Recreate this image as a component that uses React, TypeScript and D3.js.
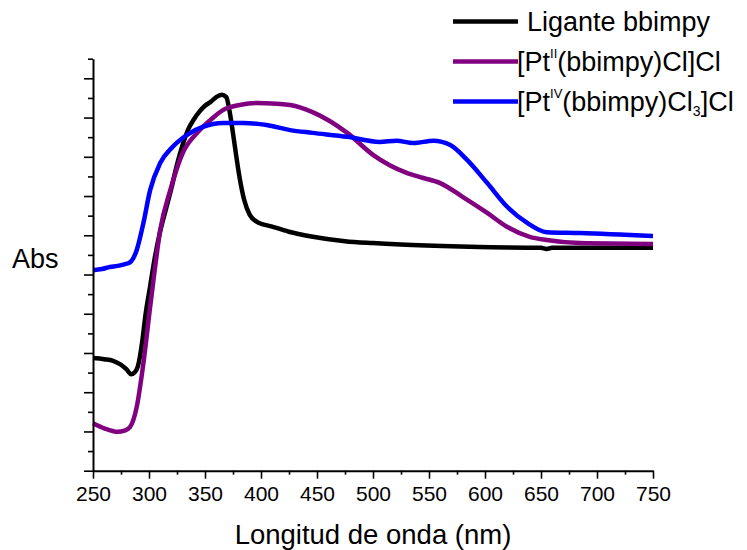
import React, { useEffect, useRef } from 'react';
import * as d3 from 'd3';

// Ligante bbimpy
const ligandWl = [250, 260, 268, 275, 280, 284, 287, 290, 294, 297, 301, 305, 310, 315, 320, 325, 330, 335, 340, 345, 350, 355, 360, 365, 369, 372, 375, 378, 381, 385, 390, 396, 410, 425, 445, 475, 500, 535, 595, 650, 655, 660, 750];
const ligandAbs = [0.287, 0.284, 0.28, 0.27, 0.258, 0.246, 0.25, 0.265, 0.33, 0.4, 0.47, 0.54, 0.61, 0.665, 0.72, 0.78, 0.83, 0.87, 0.895, 0.915, 0.93, 0.94, 0.952, 0.958, 0.952, 0.915, 0.86, 0.8, 0.745, 0.69, 0.652, 0.635, 0.622, 0.609, 0.597, 0.585, 0.58, 0.575, 0.57, 0.568, 0.565, 0.568, 0.568];

// [Pt(II)(bbimpy)Cl]Cl
const ptIIWl = [250, 260, 272, 278, 283, 289, 295, 301, 304, 310, 319, 330, 343, 355, 366, 381, 396, 414, 426, 446, 477, 500, 530, 545, 560, 580, 602, 620, 640, 655, 685, 750];
const ptIIAbs = [0.121, 0.108, 0.099, 0.102, 0.111, 0.162, 0.274, 0.417, 0.486, 0.613, 0.715, 0.809, 0.861, 0.894, 0.919, 0.932, 0.937, 0.935, 0.932, 0.914, 0.861, 0.805, 0.759, 0.746, 0.733, 0.698, 0.657, 0.621, 0.596, 0.588, 0.58, 0.578];

// [Pt(IV)(bbimpy)Cl3]Cl
const ptIVWl = [250, 258, 265, 272, 278, 283, 289, 295, 301, 310, 321, 337, 348, 366, 384, 405, 426, 446, 477, 506, 521, 536, 554, 569, 584, 602, 620, 638, 655, 685, 750];
const ptIVAbs = [0.511, 0.514, 0.519, 0.522, 0.526, 0.531, 0.562, 0.631, 0.715, 0.784, 0.825, 0.861, 0.876, 0.886, 0.886, 0.881, 0.868, 0.861, 0.851, 0.838, 0.841, 0.835, 0.841, 0.83, 0.792, 0.733, 0.672, 0.631, 0.608, 0.606, 0.598];

const xMajor = [250, 300, 350, 400, 450, 500, 550, 600, 650, 700, 750];
const xMinor = [275, 325, 375, 425, 475, 525, 575, 625, 675, 725];
const yMajor = [0, 0.1, 0.2, 0.3, 0.4, 0.5, 0.6, 0.7, 0.8, 0.9, 1.0];
const yMinor = [0.05, 0.15, 0.25, 0.35, 0.45, 0.55, 0.65, 0.75, 0.85, 0.95, 1.05];

const series = [
  { name: 'ligand', wl: ligandWl, abs: ligandAbs, color: '#000000' },
  { name: 'ptII', wl: ptIIWl, abs: ptIIAbs, color: '#800080' },
  { name: 'ptIV', wl: ptIVWl, abs: ptIVAbs, color: '#0000ff' },
];

const FONT = '"Liberation Sans", Arial, sans-serif';

const App = () => {
  const svgRef = useRef<SVGSVGElement>(null);

  useEffect(() => {
    const svg = d3.select(svgRef.current);

    const x = d3.scaleLinear().domain([250, 750]).range([93, 653]);
    const y = d3.scaleLinear().domain([0, 1.05]).range([470.7, 58.7]);

    // axes, ticks pointing out
    const xAxis = d3.axisBottom(x).tickValues(xMajor).tickSize(8).tickSizeOuter(0).tickPadding(7);
    const xMinorAxis = d3.axisBottom(x).tickValues(xMinor).tickSize(4).tickFormat(() => '');
    const yAxis = d3.axisLeft(y).tickValues(yMajor).tickSize(9).tickSizeOuter(0).tickFormat(() => '');
    const yMinorAxis = d3.axisLeft(y).tickValues(yMinor).tickSize(5).tickFormat(() => '');

    const gx = svg.select('.x-axis').attr('transform', `translate(0, ${y(0)})`).call(xAxis as any);
    svg.select('.x-minor').attr('transform', `translate(0, ${y(0)})`).call(xMinorAxis as any);
    svg.select('.y-axis').attr('transform', `translate(${x(250)}, 0)`).call(yAxis as any);
    svg.select('.y-minor').attr('transform', `translate(${x(250)}, 0)`).call(yMinorAxis as any);

    svg.selectAll('.x-minor .domain, .y-minor .domain').remove();
    svg.selectAll('.domain').attr('stroke-width', 2).attr('stroke', '#000');
    svg.selectAll('.tick line').attr('stroke-width', 1.6).attr('stroke', '#000');

    gx.selectAll('.tick text')
      .attr('font-family', FONT)
      .attr('font-size', 21)
      .attr('fill', '#000')
      .attr('dy', '0.72em');

    // curves
    const line = d3.line<[number, number]>()
      .x(d => x(d[0]))
      .y(d => y(d[1]))
      .curve(d3.curveMonotoneX);

    svg.select('.plot')
      .selectAll('path')
      .data(series)
      .join('path')
      .attr('d', s => line(s.wl.map((w, i) => [w, s.abs[i]] as [number, number])))
      .attr('fill', 'none')
      .attr('stroke', s => s.color)
      .attr('stroke-width', 4.5)
      .attr('stroke-linejoin', 'round');
  }, []);

  return (
    <svg ref={svgRef} width={747} height={550} style={{ position: 'absolute', left: 0, top: 0, background: '#fff' }}>
      <g className="plot" />
      <g className="x-minor" />
      <g className="y-minor" />
      <g className="x-axis" />
      <g className="y-axis" />

      <text x={12} y={268} fontFamily={FONT} fontSize={27} fill="#000">Abs</text>
      <text x={373} y={544} textAnchor="middle" fontFamily={FONT} fontSize={27.5} fill="#000">Longitud de onda (nm)</text>

      <g fontFamily={FONT} fontSize={27} fill="#000">
        <line x1={453} x2={518} y1={21.5} y2={21.5} stroke="#000000" strokeWidth={4.5} />
        <text x={527} y={31}>Ligante bbimpy</text>

        <line x1={453} x2={518} y1={61.5} y2={61.5} stroke="#800080" strokeWidth={4.5} />
        <text x={517} y={71}>
          [Pt<tspan fontSize={13} dy={-13}>II</tspan><tspan dy={13}>(bbimpy)Cl]Cl</tspan>
        </text>

        <line x1={453} x2={518} y1={101.5} y2={101.5} stroke="#0000ff" strokeWidth={4.5} />
        <text x={517} y={111}>
          [Pt<tspan fontSize={13} dy={-13}>IV</tspan><tspan dy={13}>(bbimpy)Cl</tspan><tspan fontSize={14} dy={5}>3</tspan><tspan dy={-5}>]Cl</tspan>
        </text>
      </g>
    </svg>
  );
};

export default App;
